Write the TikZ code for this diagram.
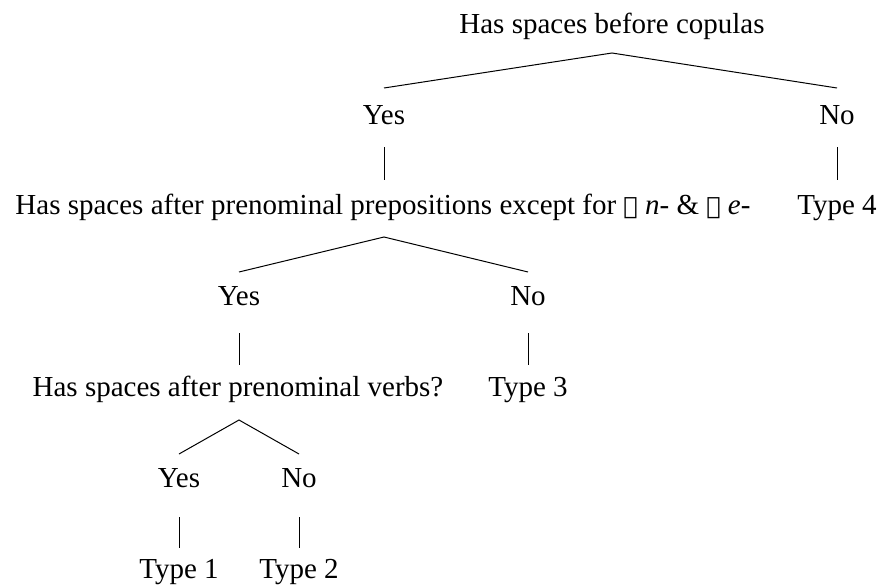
\documentclass[tikz,border=0pt]{standalone}
\usepackage{fontspec}
\setmainfont{Liberation Serif}
\newfontfamily\coptfont{DejaVu Sans}
\usetikzlibrary{calc}
\begin{document}
\begin{tikzpicture}[x=1pt,y=-1pt,
  lbl/.style={anchor=base,inner sep=0pt,font=\fontsize{29}{34}\selectfont},
  edge/.style={line width=1pt,black}]
\useasboundingbox (0,0) rectangle (878,587);
\node[lbl] (q1) at (612,33) {Has spaces before copulas};
\node[lbl] (yes1) at (384,124) {Yes};
\node[lbl] (no1) at (837,124) {No};
\node[lbl] (q2) at (383,214) {Has spaces after prenominal prepositions except for {\coptfont\fontsize{24}{30}\selectfont ⲛ} \textit{n-} \& {\coptfont\fontsize{24}{30}\selectfont ⲉ} \textit{e-}};
\node[lbl] (type4) at (837,214) {Type 4};
\node[lbl] (yes2) at (239,305) {Yes};
\node[lbl] (no2) at (528,305) {No};
\node[lbl] (q3) at (238,396) {Has spaces after prenominal verbs?};
\node[lbl] (type3) at (528,396) {Type 3};
\node[lbl] (yes3) at (179,487) {Yes};
\node[lbl] (no3) at (299,487) {No};
\node[lbl] (type1) at (179,578) {Type 1};
\node[lbl] (type2) at (299,578) {Type 2};
% level 0
\draw[edge] ($(yes1.base)+(0,-36)$) -- ($(q1.base)+(0,20)$) -- ($(no1.base)+(0,-36)$);
% verticals
\draw[edge] ($(yes1.base)+(0,23)$) -- ($(q2.base -| yes1.base)+(0,-34)$);
\draw[edge] ($(no1.base)+(0,23)$) -- ($(type4.base)+(0,-34)$);
% level 2
\draw[edge] ($(yes2.base)+(0,-33)$) -- ($(q2.base -| yes1.base)+(0,23)$) -- ($(no2.base)+(0,-33)$);
\draw[edge] ($(yes2.base)+(0,28)$) -- ($(q3.base -| yes2.base)+(0,-31)$);
\draw[edge] ($(no2.base)+(0,28)$) -- ($(type3.base)+(0,-31)$);
% level 4
\draw[edge] ($(yes3.base)+(0,-33)$) -- ($(q3.base -| yes2.base)+(0,24)$) -- ($(no3.base)+(0,-33)$);
\draw[edge] ($(yes3.base)+(0,30)$) -- ($(type1.base)+(0,-30)$);
\draw[edge] ($(no3.base)+(0,30)$) -- ($(type2.base)+(0,-30)$);
\end{tikzpicture}
\end{document}
